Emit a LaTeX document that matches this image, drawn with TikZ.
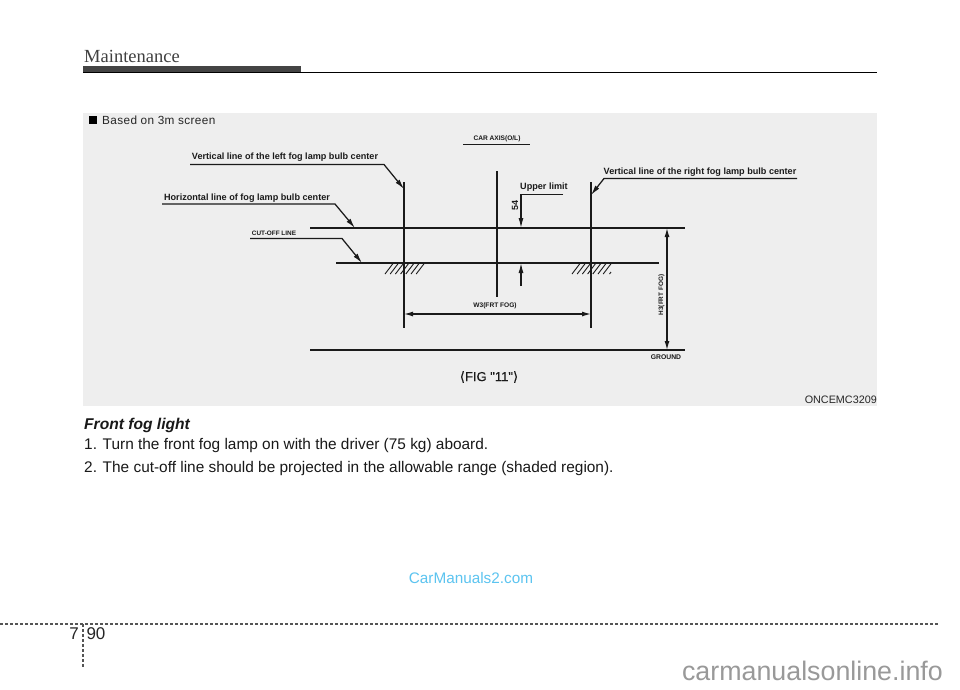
\documentclass[tikz,border=0pt]{standalone}
\usepackage{fontspec}
\setmainfont{Liberation Sans}
\newfontfamily\serifhead{Liberation Serif}
\newfontfamily\symfont[FakeBold=0.4]{DejaVu Sans}
\newfontfamily\figfont[FakeBold=0.4]{Liberation Sans}
\definecolor{panel}{HTML}{EEEEEE}
\definecolor{barc}{HTML}{444444}
\definecolor{inkc}{HTML}{1A1A1A}
\definecolor{wmark}{HTML}{5CC4F0}
\definecolor{dashc}{HTML}{555555}
\definecolor{sitec}{HTML}{999999}
\usetikzlibrary{arrows.meta}
\tikzset{
  x=1pt,y=-1pt,
  lab/.style={inner sep=0pt,text=inkc,font=\fontsize{#1}{#1}\selectfont\bfseries},
  strong/.style={lab=9.1},
  body/.style={inner sep=0pt,anchor=base west,font=\fontsize{15.4}{17}\selectfont,text=black!90},
  thin line/.style={draw=inkc,line width=1.25pt},
  leader/.style={draw=inkc,line width=1.25pt,-{Latex[length=10pt,width=5pt]}},
  dim/.style={draw=inkc,line width=1.25pt,{Latex[length=9pt,width=5pt]}-{Latex[length=9pt,width=5pt]}},
  dimone/.style={draw=inkc,line width=1.25pt,-{Latex[length=10pt,width=5pt]}},
  hatchln/.style={draw=inkc,line width=0.9pt},
  footdash/.style={draw=dashc,line width=1.1pt,dash pattern=on 3.2pt off 1.8pt},
}
\begin{document}
\begin{tikzpicture}
\useasboundingbox (0,0) rectangle (960,689);
\fill[white] (0,0) rectangle (960,689);
% header
\node[inner sep=0pt,anchor=base west,font=\fontsize{18.5}{20}\serifhead,text=black!75] (title) at (84,62) {Maintenance};
\fill[barc] (83,65.5) rectangle (301,73);
\coordinate (hl) at (83,72.5); \coordinate (hr) at (877,72.5);
\draw[black,line width=1.2pt] (hl) -- (hr);
% panel
\fill[panel] (83,112.5) rectangle (877,405.5);
\fill[black] (89,116) rectangle (97,124);
\node[inner sep=0pt,anchor=base west,font=\fontsize{11.8}{13}\selectfont\addfontfeature{LetterSpace=3},text=black!85] (based) at (102,124) {Based on 3m screen};
\node[inner sep=0pt,anchor=base east,font=\fontsize{10.8}{13}\selectfont,text=black!85] (code) at (877,403) {ONCEMC3209};
% main lines
\coordinate (h1a) at (310,228); \coordinate (h1b) at (685,228);
\coordinate (h2a) at (336,263); \coordinate (h2b) at (659,263);
\coordinate (ga) at (310,350); \coordinate (gb) at (685,350);
\coordinate (vla) at (404,182); \coordinate (vlb) at (404,328);
\coordinate (vra) at (591,182); \coordinate (vrb) at (591,328);
\coordinate (vca) at (497,171); \coordinate (vcb) at (497,297);
\draw[thin line] (h1a) -- (h1b);
\draw[thin line] (h2a) -- (h2b);
\draw[thin line] (ga) -- (gb);
\draw[thin line] (vla) -- (vlb);
\draw[thin line] (vra) -- (vrb);
\draw[thin line] (vca) -- (vcb);
% hatching
\foreach \k in {0,...,6}{
  \draw[hatchln] ({385+5.2*\k},274) -- ({393+5.2*\k},263.5);
  \draw[hatchln] ({572+5.2*\k},274) -- ({580+5.2*\k},263.5);
}
\draw[hatchln] (609.5,274) -- (611,272);
% car axis
\node[lab=6.6] (axis) at (497,139) {CAR AXIS(O/L)};
\coordinate (axa) at (463,144.5); \coordinate (axb) at (530,144.5);
\draw[thin line,line width=0.9pt] (axa) -- (axb);
% left leaders
\node[strong] (vl) at (285,157) {Vertical line of the left fog lamp bulb center};
\coordinate (vl0) at (190,164.5); \coordinate (vl1) at (384,164.5); \coordinate (vl2) at (404,189);
\draw[leader] (vl0) -- (vl1) -- (vl2);
\node[strong] (hz) at (247,198) {Horizontal line of fog lamp bulb center};
\coordinate (hz0) at (162,204); \coordinate (hz1) at (335,204); \coordinate (hz2) at (355,228);
\draw[leader] (hz0) -- (hz1) -- (hz2);
\node[lab=6.4] (cut) at (274,233) {CUT-OFF LINE};
\coordinate (cu0) at (250,238.5); \coordinate (cu1) at (342,238.5); \coordinate (cu2) at (362,263);
\draw[leader] (cu0) -- (cu1) -- (cu2);
% right leader
\node[strong] (vr) at (700,172) {Vertical line of the right fog lamp bulb center};
\coordinate (vr0) at (797,178.5); \coordinate (vr1) at (604,178.5); \coordinate (vr2) at (591,195);
\draw[leader] (vr0) -- (vr1) -- (vr2);
% upper limit
\node[strong] (up) at (544,187.5) {Upper limit};
\coordinate (up0) at (563,194.5); \coordinate (up1) at (521,194.5); \coordinate (up2) at (521,228);
\draw[dimone] (up0) -- (up1) -- (up2);
\coordinate (lo0) at (521,286); \coordinate (lo1) at (521,263);
\draw[dimone] (lo0) -- (lo1);
\node[lab=9,rotate=90] (ft) at (515,205) {54};
% width
\coordinate (wa) at (404,314); \coordinate (wb) at (591,314);
\draw[dim] (wa) -- (wb);
\node[lab=6.6] (w3) at (495,305.5) {W3(FRT FOG)};
% height
\coordinate (ha) at (667,228); \coordinate (hb) at (667,350);
\draw[dim] (ha) -- (hb);
\node[lab=6.4,rotate=90] (h3) at (661.5,295) {H3(FRT FOG)};
\node[lab=6.8] (gr) at (666,357.5) {GROUND};
\node[inner sep=0pt,font=\fontsize{13}{14}\selectfont,text=inkc] (fig) at (489,377) {{\symfont\fontsize{13}{14}\selectfont⟨}{\figfont FIG "11"}{\symfont\fontsize{13}{14}\selectfont⟩}};
% body text
\node[body,font=\fontsize{15.6}{17}\selectfont\bfseries\itshape] (t0) at (84,429) {Front fog light};
\node[body] (t1) at (84,449) {1. Turn the front fog lamp on with the driver (75 kg) aboard.};
\node[body] (t2) at (84,472) {2. The cut-off line should be projected in the allowable range (shaded region).};
% watermark
\node[inner sep=0pt,font=\fontsize{15.3}{18}\selectfont,text=wmark] (wm) at (471,578) {CarManuals2.com};
% site
\node[inner sep=0pt,anchor=base east,font=\fontsize{26.8}{28}\selectfont,text=sitec] (site) at (943,680) {carmanualsonline.info};
% footer
\coordinate (fa) at (0,624); \coordinate (fb) at (938,624); \coordinate (fc) at (83,624); \coordinate (fd) at (83,667);
\draw[footdash] (fa) -- (fb);
\draw[footdash] (fc) -- (fd);
\node[inner sep=0pt,font=\fontsize{17}{18}\selectfont,text=black!85] (p7) at (74,634) {7};
\node[inner sep=0pt,font=\fontsize{17}{18}\selectfont,text=black!85] (p90) at (96,634) {90};
\end{tikzpicture}
\end{document}
